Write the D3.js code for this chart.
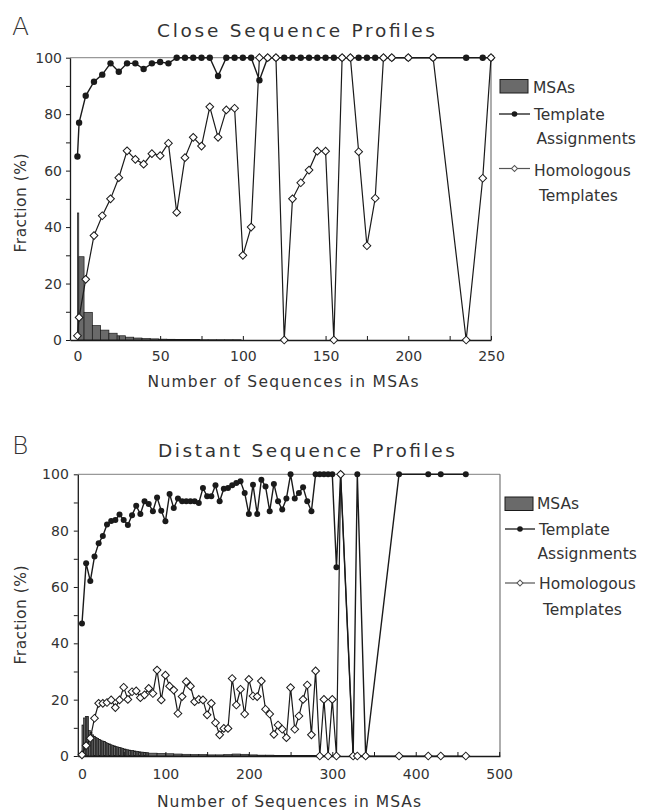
<!DOCTYPE html>
<html><head><meta charset="utf-8">
<script src="https://cdn.jsdelivr.net/npm/d3@7"></script>
<style>
body{margin:0;background:#fff}
svg{display:block}
text{font-family:"DejaVu Sans",sans-serif;fill:#333}
</style>
</head><body>
<svg id="c" width="649" height="810"></svg>
<script>
// ---------- Panel A: Close Sequence Profiles ----------
const xA = [0,1,5,10,15,20,25,30,35,40,45,50,55,60,65,70,75,80,85,90,95,100,105,110,115,120,125,130,135,140,145,150,155,160,165,170,175,180,185,190,200,215,235,245,250];
const templateA = [65,77,86.5,91.5,94,98,95,98,98,96,98,98.5,98,100,100,100,100,100,93.5,100,100,100,100,92,100,100,100,100,100,100,100,100,100,100,100,100,100,100,100,100,100,100,100,100,100];
const homologousA = [1.5,8,21.5,37,44,50,57.5,67,64,62.3,66,65.3,69.7,45.2,64.6,71.8,68.7,82.6,71.8,81.5,82.1,30,40,100,100,100,0,50,55.7,60.2,66.9,66.9,0,100,100,66.7,33.4,50.2,100,100,100,100,0,57.3,100];
const msaEdgesA = [0,0.8,4,9,14,19,24,29,34,39,44,49,54,59,64,69,74,79,84,89,94,99];
const msaA = [45,29.5,9.8,5.1,3.5,2.4,1.5,1.0,0.7,0.5,0.4,0.3,0.25,0.2,0.15,0.15,0.1,0.1,0.1,0.1,0.1];
const xTicksA = [0,50,100,150,200,250];
const xMinorA = [25,75,125,175,225];

// ---------- Panel B: Distant Sequence Profiles ----------
const xB = [0,5,10,15,20,25,30,35,40,45,50,55,60,65,70,75,80,85,90,95,100,105,110,115,120,125,130,135,140,145,150,155,160,165,170,175,180,185,190,195,200,205,210,215,220,225,230,235,240,245,250,255,260,265,270,275,280,285,290,295,300,305,310,325,330,340,380,415,430,460];
const templateB = [47,68.4,62.1,70.8,75.5,78.1,82.2,83.4,83.8,85.7,83.8,82.0,85.5,88.8,85.9,90.4,89.5,86.9,91.8,87.1,83.3,93.0,88.0,91.4,90.4,90.4,90.4,90.4,89.8,95.1,92.2,92.2,96.1,90.4,94.9,95.1,96.1,96.9,97.5,93.4,85.9,96.3,85.9,98.1,95.7,86.9,96.6,90.4,87.5,91.4,100,91.4,93.4,95.4,90.4,86.9,100,100,100,100,100,67,100,0,100,0,100,100,100,100];
const homologousB = [0.4,3.7,6.3,13.4,18.7,18.7,19.0,19.9,17.2,19.9,24.4,20.1,22.8,23.1,20.7,21.7,24.0,22.2,30.5,19.9,28.7,24.8,23.4,15.1,21.1,26.4,24.8,19.3,20.1,19.9,14.6,18.7,11.8,7.5,9.8,9.8,27.5,18.1,23.7,14.9,27.2,21.3,21.1,26.6,16.6,14.9,7.7,11.0,9.5,6.5,24.3,9.5,14.2,20.1,25.2,7.5,30.2,0,20.1,0,20.1,0,100,0,0,0,0,0,0,0];
const msaEdgesB = [0,2,4,6,8,10,12,14,16,18,20,22,24,26,28,30,32,34,36,38,40,42,44,46,48,50,52,54,56,58,60,62,64,66,68,70,72,74,76,78,80,90,100,110,120,130,140,150,160,170,180,190,200,210,220,230,240,250,260,270,280,290,300];
const msaB = [11,13.5,14,14,9,8.3,7.5,7,6.6,6.2,5.9,5.6,5.3,5.1,4.8,4.5,4.3,4.0,3.8,3.6,3.4,3.2,3.0,2.9,2.7,2.5,2.4,2.2,2.1,2.0,1.9,1.8,1.7,1.6,1.5,1.4,1.35,1.3,1.2,1.15,
              1.0,0.9,0.8,0.7,0.6,0.5,0.5,0.4,0.4,0.5,0.7,0.6,0.4,0.3,0.3,0.2,0.2,0.2,0.15,0.15,0.1,0.1];
const xTicksB = [0,100,200,300,400,500];
const xMinorB = [50,150,250,350,450];

const yTicks = [0,20,40,60,80,100];
const yMinor = [10,30,50,70,90];
const legendLabels = ["MSAs","Template","Assignments","Homologous","Templates"];

const svg = d3.select("#c");
const INK = "#1a1a1a";

function diamond(sel){
  return sel.append("path")
    .attr("d", d3.symbol(d3.symbolSquare, 30)())
    .attr("fill","#fff").attr("stroke",INK).attr("stroke-width",1);
}

function panel(p){
  const g = svg.append("g");
  const x = d3.scaleLinear().domain(p.xDom).range([p.left,p.right]);
  const y = d3.scaleLinear().domain([0,100]).range([p.bottom,p.top]);

  // letter + title
  g.append("text").attr("x",p.letterX).attr("y",p.letterY).attr("font-size",25)
    .attr("font-weight",300).attr("fill","#222").text(p.letter);
  g.append("text").attr("x",p.titleX).attr("y",p.titleY).attr("font-size",18.5)
    .attr("text-anchor","middle").attr("textLength",p.titleLen).attr("lengthAdjust","spacing")
    .attr("fill","#333").text(p.title);

  // frame (top + right, light)
  g.append("line").attr("x1",p.left).attr("x2",p.right).attr("y1",p.top).attr("y2",p.top)
    .attr("stroke","#999").attr("stroke-width",1.2);
  g.append("line").attr("x1",p.right).attr("x2",p.right).attr("y1",p.top).attr("y2",p.bottom)
    .attr("stroke","#777").attr("stroke-width",1.2);

  // bars
  g.append("g").selectAll("rect").data(p.msa).join("rect")
    .attr("x",(d,i)=>x(p.edges[i]))
    .attr("width",(d,i)=>Math.max(0.6, x(p.edges[i+1])-x(p.edges[i])))
    .attr("y",d=>y(d)).attr("height",d=>y(0)-y(d))
    .attr("fill","#6a6a6a").attr("stroke",INK).attr("stroke-width",0.7);

  // axes
  const ya = g.append("g").attr("transform",`translate(${p.left},0)`)
    .call(d3.axisLeft(y).tickValues(yTicks).tickSize(4).tickSizeOuter(0).tickPadding(p.yPad));
  g.append("g").attr("transform",`translate(${p.left},0)`)
    .call(d3.axisLeft(y).tickValues(yMinor).tickSize(4).tickSizeOuter(0).tickFormat(""))
    .select(".domain").remove();
  const xa = g.append("g").attr("transform",`translate(0,${p.bottom})`)
    .call(d3.axisBottom(x).tickValues(p.xTicks).tickSize(-4).tickSizeOuter(0).tickPadding(p.xPad));
  g.append("g").attr("transform",`translate(0,${p.bottom})`)
    .call(d3.axisBottom(x).tickValues(p.xMinor).tickSize(-4).tickSizeOuter(0).tickFormat(""))
    .select(".domain").remove();
  g.selectAll(".domain").attr("stroke",INK).attr("stroke-width",1.3);
  g.selectAll(".tick line").attr("stroke",INK).attr("stroke-width",1);
  g.selectAll(".tick text").attr("font-size",14).attr("fill","#333")
    .attr("font-family","DejaVu Sans, sans-serif");

  // axis titles
  g.append("text").attr("transform",`translate(${p.yLabX},${p.yLabY}) rotate(-90)`)
    .attr("text-anchor","middle").attr("font-size",15.5).attr("textLength",99)
    .attr("lengthAdjust","spacing").text("Fraction (%)");
  g.append("text").attr("x",p.xLabX).attr("y",p.xLabY).attr("text-anchor","middle")
    .attr("font-size",15.5).attr("textLength",p.xLabLen).attr("lengthAdjust","spacing")
    .text("Number of Sequences in MSAs");

  const line = d3.line().x(d=>x(d[0])).y(d=>y(d[1]));
  const ta = p.xs.map((v,i)=>[v,p.ta[i]]);
  const ht = p.xs.map((v,i)=>[v,p.ht[i]]);

  g.append("path").datum(ta).attr("d",line).attr("fill","none").attr("stroke",INK).attr("stroke-width",1.4);
  g.append("g").selectAll("circle").data(ta).join("circle")
    .attr("cx",d=>x(d[0])).attr("cy",d=>y(d[1])).attr("r",p.dotR).attr("fill",INK);
  g.append("path").datum(ht).attr("d",line).attr("fill","none").attr("stroke",INK).attr("stroke-width",1.2);
  g.append("g").selectAll("g").data(ht).join("g")
    .attr("transform",d=>`translate(${x(d[0])},${y(d[1])}) rotate(45)`)
    .call(diamond);

  // legend
  const L = p.leg;
  g.append("rect").attr("x",L.bx).attr("y",L.by).attr("width",28).attr("height",13.5)
    .attr("fill","#6a6a6a").attr("stroke",INK).attr("stroke-width",1);
  g.append("line").attr("x1",L.lx0).attr("x2",L.lx1).attr("y1",L.ty).attr("y2",L.ty)
    .attr("stroke",INK).attr("stroke-width",1.3);
  g.append("circle").attr("cx",(L.lx0+L.lx1)/2).attr("cy",L.ty).attr("r",2.8).attr("fill",INK);
  g.append("line").attr("x1",L.lx0).attr("x2",L.lx1).attr("y1",L.hy).attr("y2",L.hy)
    .attr("stroke","#555").attr("stroke-width",1.2);
  g.append("g").attr("transform",`translate(${(L.lx0+L.lx1)/2},${L.hy}) rotate(45)`)
    .append("path").attr("d",d3.symbol(d3.symbolSquare,18)()).attr("fill","#fff")
    .attr("stroke","#555").attr("stroke-width",1);
  legendLabels.forEach((t,i)=>{
    g.append("text").attr("x",L.tx[i]).attr("y",L.tyy[i]).attr("font-size",15.5)
      .attr("fill","#333").text(t);
  });
}

panel({
  letter:"A", letterX:12, letterY:35, title:"Close Sequence Profiles", titleX:296, titleY:36.5, titleLen:278,
  left:70, right:491, top:57.7, bottom:340, xDom:[-4.5,250],
  xTicks:xTicksA, xMinor:xMinorA, xPad:11, yPad:4,
  yLabX:26, yLabY:203, xLabX:283, xLabY:387, xLabLen:271,
  xs:xA, ta:templateA, ht:homologousA, edges:msaEdgesA, msa:msaA, dotR:3.2,
  leg:{bx:500,by:79.5,lx0:499,lx1:530,ty:114,hy:168.5,
       tx:[533,534,536.5,534,539], tyy:[92.5,120,143.5,176,201]}
});
panel({
  letter:"B", letterX:12, letterY:454, title:"Distant Sequence Profiles", titleX:306.5, titleY:456.5, titleLen:297,
  left:77.8, right:500, top:474.3, bottom:756, xDom:[-5,501],
  xTicks:xTicksB, xMinor:xMinorB, xPad:13, yPad:5,
  yLabX:26, yLabY:615, xLabX:289, xLabY:807, xLabLen:264,
  xs:xB, ta:templateB, ht:homologousB, edges:msaEdgesB, msa:msaB, dotR:3,
  leg:{bx:505,by:497,lx0:505,lx1:535,ty:529,hy:583,
       tx:[537,539,537.5,539,543], tyy:[509,534.5,559,589,615]}
});
</script>
</body></html>
